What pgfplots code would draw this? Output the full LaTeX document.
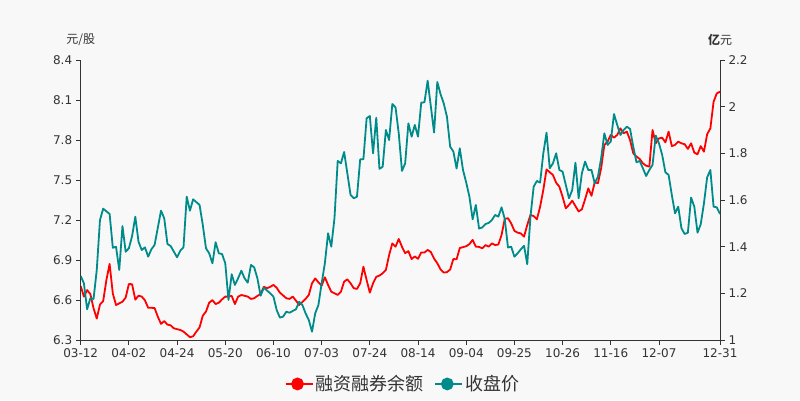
\documentclass[border=0pt]{standalone}
\usepackage{pgfplots}
\pgfplotsset{compat=1.18}
\usepackage{fontspec}
\setmainfont{DejaVu Sans}
\newfontfamily\cjk{Noto Sans CJK SC}
\definecolor{bg}{HTML}{F8F8F8}
\definecolor{axc}{HTML}{333333}
\definecolor{lblc}{HTML}{333333}
\definecolor{redc}{HTML}{FF0000}
\definecolor{tealc}{HTML}{008B8B}
\pgfplotsset{
  base/.style={
    scale only axis, width=639.3pt, height=280pt,
    at={(80.7pt,60pt)}, anchor=south west,
    xmin=0, xmax=199,
    tick align=outside, major tick length=5pt,
    tick style={axc, line width=0.8pt},
    axis line style={axc, line width=0.8pt},
    ticklabel style={font=\fontsize{12}{14}\selectfont, text=lblc},
    /pgf/number format/assume math mode=true,
  },
  legend image code/.code={
    \path (0pt,0pt) -- (27pt,0pt);
    \draw[#1, line width=1.8pt, opacity=0.6] (0pt,0pt) -- (24pt,0pt);
    \fill[#1] (12pt,0pt) circle (5.5pt);
  },
}
\begin{document}
\begin{tikzpicture}
\path[use as bounding box, fill=bg] (0,0) rectangle (800pt,400pt);
\begin{axis}[base,
  axis y line*=right, axis x line*=bottom,
  ymin=1, ymax=2.2,
  ytick={1,1.2,1.4,1.6,1.8,2,2.2},
  yticklabels={1,1.2,1.4,1.6,1.8,2,2.2},
  xtick={0,15,30,45,60,75,90,105,120,135,150,165,180,199},
  xticklabels={03-12,04-02,04-24,05-20,06-10,07-03,07-24,08-14,09-04,09-25,10-26,11-16,12-07,12-31},
]
\addplot[redc, line width=1.8pt, mark=none, line join=round] coordinates {
(0,1.231)(1,1.186)(2,1.214)(3,1.197)(4,1.136)(5,1.092)(6,1.152)(7,1.167)(8,1.257)(9,1.326)
(10,1.199)(11,1.15)(12,1.157)(13,1.164)(14,1.182)(15,1.24)(16,1.239)(17,1.173)(18,1.19)(19,1.186)
(20,1.17)(21,1.138)(22,1.138)(23,1.137)(24,1.1)(25,1.069)(26,1.081)(27,1.066)(28,1.063)(29,1.05)
(31,1.043)(32,1.036)(34,1.012)(35,1.016)(36,1.036)(37,1.054)(38,1.104)(39,1.122)
(40,1.16)(41,1.171)(42,1.154)(43,1.16)(44,1.174)(45,1.186)(46,1.186)(47,1.189)(48,1.154)(49,1.186)
(50,1.193)(52,1.186)(53,1.176)(54,1.179)(55,1.189)(56,1.197)(57,1.228)(58,1.222)(59,1.228)
(60,1.236)(61,1.224)(62,1.203)(63,1.191)(64,1.179)(65,1.176)(66,1.186)(67,1.169)(68,1.15)(69,1.163)
(70,1.176)(71,1.193)(72,1.243)(73,1.264)(74,1.247)(75,1.233)(76,1.269)(77,1.236)(78,1.207)
(80,1.193)(81,1.207)(82,1.25)(83,1.26)(84,1.243)(85,1.222)(86,1.219)(87,1.243)(88,1.314)(89,1.257)
(90,1.203)(91,1.243)(92,1.271)(93,1.276)(94,1.286)(95,1.3)(96,1.364)(97,1.414)(98,1.4)(99,1.433)
(100,1.4)(101,1.372)(102,1.381)(103,1.347)(104,1.358)(105,1.348)(106,1.375)(107,1.375)(108,1.386)(109,1.377)
(110,1.349)(111,1.329)(112,1.303)(113,1.289)(114,1.291)(115,1.302)(116,1.347)(117,1.346)(118,1.394)
(120,1.402)(121,1.411)(122,1.429)(123,1.4)(124,1.399)(125,1.393)(126,1.407)(127,1.4)(128,1.414)(129,1.407)
(130,1.409)(131,1.45)(132,1.519)(133,1.522)(134,1.5)(135,1.468)(136,1.46)(137,1.457)(138,1.443)(139,1.493)
(140,1.536)(141,1.531)(142,1.517)(143,1.571)(144,1.643)(145,1.731)(147,1.707)(148,1.674)(149,1.657)
(150,1.614)(151,1.564)(152,1.579)(153,1.597)(154,1.574)(155,1.551)(156,1.56)(157,1.603)(158,1.65)(159,1.618)
(160,1.676)(161,1.672)(162,1.736)(163,1.836)(164,1.85)(165,1.879)(166,1.867)(167,1.879)(168,1.907)(169,1.886)
(170,1.893)(171,1.857)(172,1.8)(173,1.786)(174,1.776)(175,1.757)(176,1.747)(177,1.743)(178,1.9)(179,1.843)
(180,1.864)(181,1.867)(182,1.847)(183,1.893)(184,1.831)(185,1.836)(186,1.85)(187,1.843)(188,1.839)(189,1.819)
(190,1.843)(191,1.803)(192,1.796)(193,1.831)(194,1.807)(195,1.882)(196,1.907)(197,2.021)(198,2.057)(199,2.064)
};
\end{axis}
\begin{axis}[base,
  axis y line*=left, axis x line=none,
  ymin=6.3, ymax=8.4,
  ytick={6.3,6.6,6.9,7.2,7.5,7.8,8.1,8.4},
  yticklabels={6.3,6.6,6.9,7.2,7.5,7.8,8.1,8.4},
  legend columns=2,
  legend style={draw=none, fill=none, at={(0.504,-0.157)}, anchor=center,
    font=\cjk\fontsize{18}{20}\selectfont, text=lblc,
    /tikz/every even column/.append style={column sep=9pt}},
]
\addlegendimage{redc, line width=1.8pt}
\addlegendentry{融资融券余额}
\addplot[tealc, line width=1.8pt, mark=none, line join=round] coordinates {
(0,6.78)(1,6.725)(2,6.53)(3,6.613)(4,6.608)(5,6.825)(6,7.2)(7,7.285)(9,7.245)
(10,6.992)(11,6.999)(12,6.825)(13,7.155)(14,6.962)(15,6.988)(16,7.08)(17,7.225)(18,7.037)(19,6.975)
(20,6.995)(21,6.925)(22,6.98)(23,7.013)(25,7.27)(26,7.213)(27,7.02)(28,7.005)
(30,6.92)(31,6.97)(32,6.995)(33,7.375)(34,7.27)(35,7.355)(37,7.313)(38,7.163)(39,6.988)
(40,6.95)(41,6.875)(42,7.033)(43,6.95)(44,6.945)(45,6.875)(46,6.6)(47,6.793)(48,6.713)(49,6.763)
(50,6.82)(51,6.763)(52,6.73)(53,6.863)(54,6.845)(55,6.763)(56,6.632)(57,6.692)(59,6.65)
(60,6.625)(61,6.525)(62,6.468)(63,6.475)(64,6.512)(65,6.505)(67,6.53)(68,6.587)(69,6.563)
(70,6.5)(71,6.45)(72,6.362)(73,6.5)(74,6.563)(75,6.725)(76,6.875)(77,7.1)(78,7.0)(79,7.215)
(80,7.643)(81,7.625)(82,7.71)(83,7.55)(84,7.388)(85,7.363)(86,7.375)(87,7.655)(88,7.655)(89,7.963)
(90,7.98)(91,7.7)(92,7.967)(93,7.583)(94,7.6)(95,7.875)(96,7.8)(97,8.07)(98,8.045)(99,7.85)
(100,7.568)(101,7.625)(102,7.925)(103,7.825)(104,7.913)(105,7.825)(106,8.08)(107,8.083)(108,8.245)(109,8.05)
(110,7.856)(111,8.235)(112,8.145)(113,8.075)(114,7.975)(115,7.75)(116,7.714)(117,7.586)(118,7.738)(119,7.575)
(120,7.481)(121,7.375)(122,7.205)(123,7.313)(124,7.136)(125,7.144)(126,7.17)(127,7.178)(128,7.2)(129,7.238)
(130,7.225)(131,7.295)(132,7.208)(133,6.994)(134,7.0)(135,6.925)(136,6.95)(137,6.98)(138,7.007)(139,6.868)
(140,7.225)(141,7.45)(142,7.493)(143,7.48)(144,7.7)(145,7.855)(146,7.588)(147,7.625)(148,7.7)(149,7.575)
(150,7.563)(151,7.463)(152,7.363)(153,7.425)(154,7.63)(155,7.363)(156,7.55)(157,7.638)(158,7.575)(159,7.575)
(160,7.475)(161,7.525)(162,7.663)(163,7.85)(164,7.763)(165,7.788)(166,7.995)(167,7.913)(168,7.838)(169,7.875)
(170,7.9)(171,7.883)(172,7.75)(173,7.633)(174,7.643)(175,7.588)(176,7.53)(177,7.575)(178,7.613)(179,7.833)
(180,7.775)(181,7.688)(182,7.558)(183,7.538)(184,7.388)(185,7.25)(186,7.3)(187,7.138)(188,7.095)(189,7.105)
(190,7.368)(191,7.3)(192,7.105)(193,7.168)(194,7.325)(195,7.52)(196,7.575)(197,7.3)(198,7.295)(199,7.245)
};
\addlegendentry{收盘价}
\end{axis}
\node[font=\cjk\fontsize{12}{14}\selectfont, text=lblc] at (80.7pt,360.5pt) {元/股};
\node[font=\cjk\fontsize{12}{14}\selectfont, text=lblc] at (720pt,360pt) {{\bfseries 亿}元};
\end{tikzpicture}
\end{document}
